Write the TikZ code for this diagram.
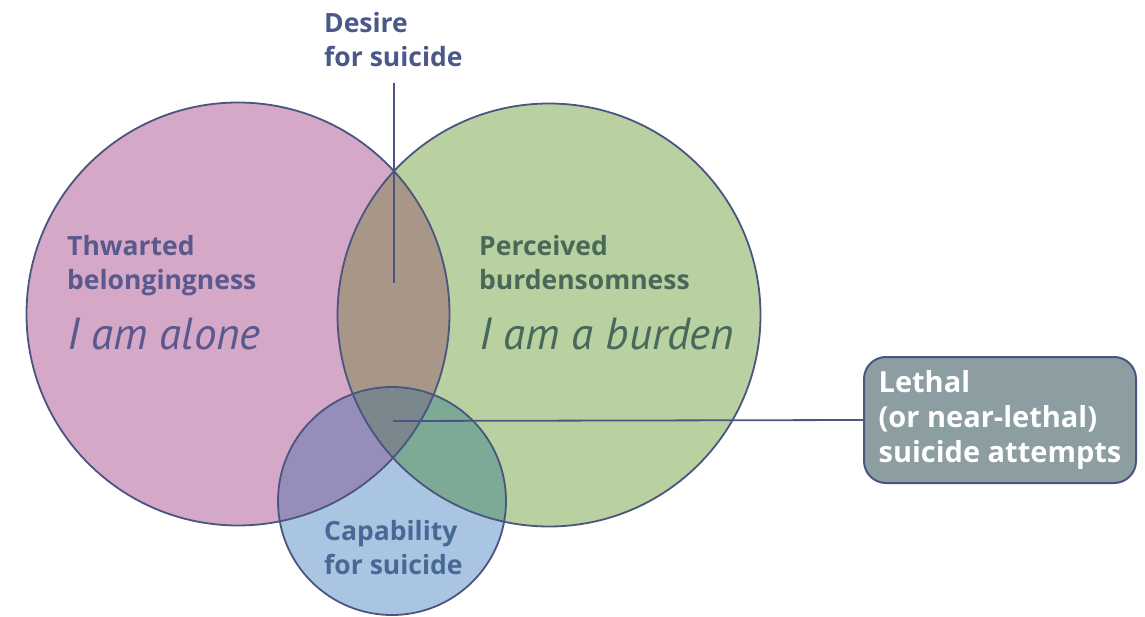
\documentclass[tikz,border=0pt]{standalone}
\usepackage{fontspec}
\setmainfont{Open Sans}
\newfontfamily\mottofont{PT Sans}
\definecolor{pinkf}{RGB}{212,168,198}
\definecolor{greenf}{RGB}{185,208,160}
\definecolor{lensf}{RGB}{168,150,136}
\definecolor{bluef}{RGB}{170,197,226}
\definecolor{pbf}{RGB}{150,141,186}
\definecolor{gbf}{RGB}{124,170,150}
\definecolor{triplef}{RGB}{122,136,142}
\definecolor{edgec}{RGB}{74,85,128}
\definecolor{boxf}{RGB}{140,158,162}
\definecolor{purpt}{RGB}{90,88,140}
\definecolor{greent}{RGB}{72,104,90}
\definecolor{bluet}{RGB}{72,104,150}
\definecolor{desiret}{RGB}{74,88,138}
\tikzset{
  lbl/.style={inner sep=0pt, align=left, font=\fontsize{26.5}{34}\selectfont\bfseries},
  motto/.style={inner sep=0pt, font=\mottofont\fontsize{45}{48}\selectfont\itshape},
  conn/.style={draw=edgec, line width=1.8pt},
  outcome/.style={draw=edgec, line width=2pt, fill=boxf, rounded corners=22pt,
    minimum width=272pt, minimum height=126pt, inner xsep=12pt, align=left,
    text=white, font=\fontsize{29}{35}\selectfont\bfseries}
}
\begin{document}
\begin{tikzpicture}[x=1pt,y=-1pt]
\useasboundingbox (0,0) rectangle (1145,617);
\fill[white] (0,0) rectangle (1145,617);
\def\pinkc{(238,314) circle[radius=211.5pt]}
\def\greenc{(549,315) circle[radius=211.5pt]}
\def\bluec{(392,501) circle[radius=114pt]}
\fill[pinkf] \pinkc;
\fill[greenf] \greenc;
\begin{scope}\clip \pinkc; \fill[lensf] \greenc; \end{scope}
\fill[bluef] \bluec;
\begin{scope}
  \clip \bluec;
  \fill[pbf] \pinkc;
  \fill[gbf] \greenc;
  \clip \pinkc;
  \fill[triplef] \greenc;
\end{scope}
\draw[edgec, line width=1.8pt] \pinkc \greenc \bluec;

\node[lbl, text=desiret, anchor=north west] (desire) at (324,12) {Desire\\for suicide};
\node[lbl, text=purpt, anchor=north west] (thw) at (67,235) {Thwarted\\belongingness};
\node[lbl, text=greent, anchor=north west] (per) at (479,235) {Perceived\\burdensomness};
\node[lbl, text=bluet, anchor=north west] (cap) at (324,520) {Capability\\for suicide};
\node[motto, text=purpt, anchor=base west] (alone) at (67,349) {I am alone};
\node[motto, text=greent, anchor=base west] (burden) at (479,349) {I am a burden};
\node[outcome, anchor=west] (lethal) at (863,420) {Lethal\\(or near-lethal)\\suicide attempts};

\coordinate (dtop) at (394,83);
\coordinate (dend) at (394,283);
\coordinate (tend) at (393,421);
\draw[conn] (dtop) -- (dend);
\draw[conn] (tend) -- (lethal.west);
\end{tikzpicture}
\end{document}
